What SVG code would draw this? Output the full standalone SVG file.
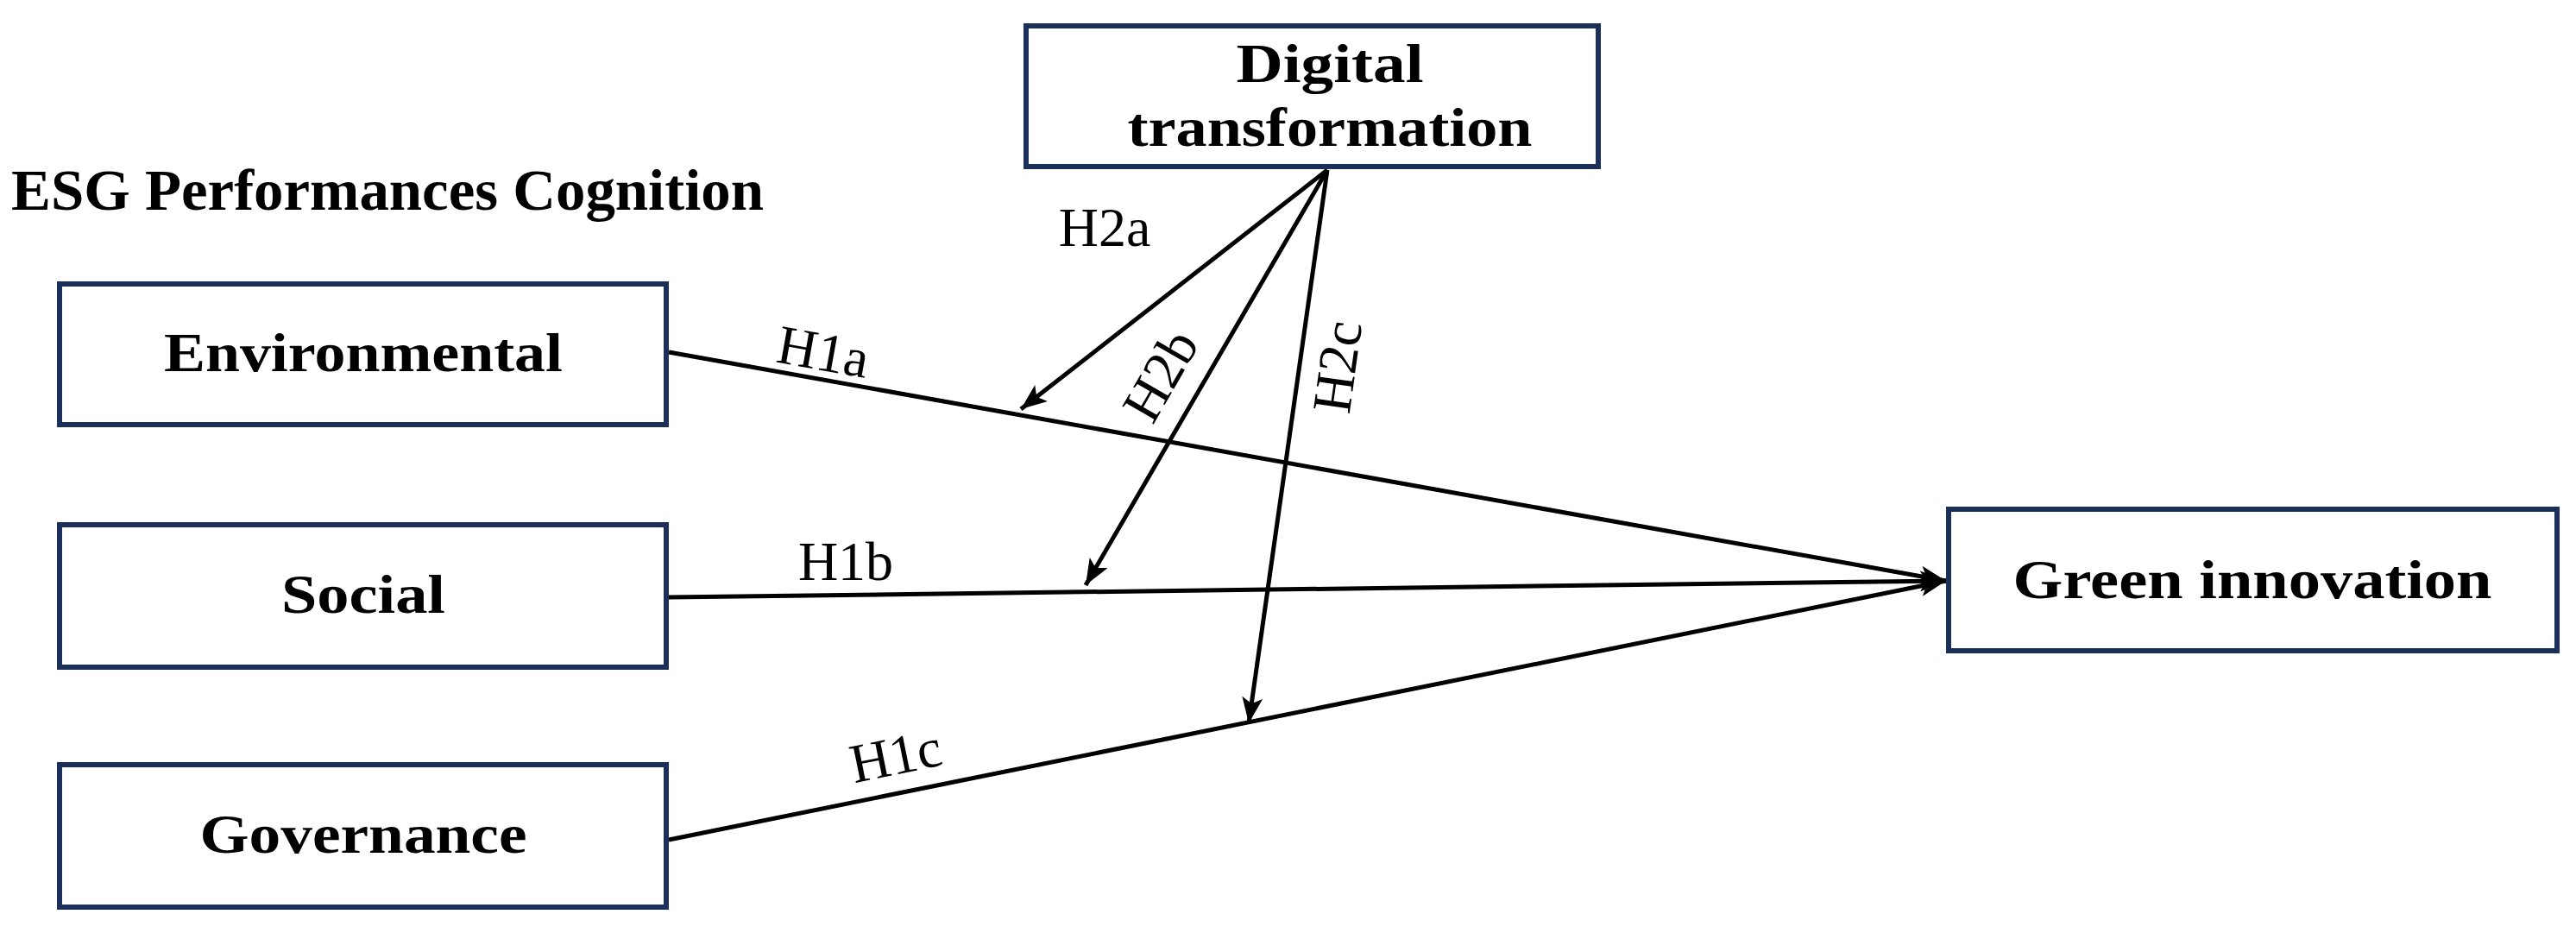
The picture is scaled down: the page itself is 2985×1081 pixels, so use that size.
<svg xmlns="http://www.w3.org/2000/svg" width="2985" height="1081" viewBox="0 0 2985 1081">
<style>
.box{fill:#fff;stroke:#1b2f5b;stroke-width:6}
.nt{font-family:"Liberation Serif","Times New Roman",serif;font-weight:bold;font-size:64px;fill:#000;text-anchor:middle}
.lbl{font-family:"Liberation Serif","Times New Roman",serif;font-size:64px;fill:#000;text-anchor:middle}
.ttl{font-family:"Liberation Serif","Times New Roman",serif;font-weight:bold;font-size:68px;fill:#000}
.ln{stroke:#000;stroke-width:5;fill:none;marker-end:url(#ah)}
</style>
<defs>
<marker id="ah" markerUnits="userSpaceOnUse" markerWidth="32" markerHeight="24" refX="30" refY="12" orient="auto">
<path d="M0,0 L30,12 L0,24 L7,12 Z" fill="#000"/>
</marker>
</defs>
<rect width="2985" height="1081" fill="#fff"/>
<text class="ttl" x="13" y="243" textLength="872" lengthAdjust="spacingAndGlyphs">ESG Performances Cognition</text>
<g id="connectors">
<line class="ln" x1="775" y1="408" x2="2255" y2="673"/>
<line class="ln" x1="775" y1="692" x2="2255" y2="673"/>
<line class="ln" x1="775" y1="973" x2="2255" y2="673"/>
<line class="ln" x1="1538" y1="197" x2="1183" y2="474"/>
<line class="ln" x1="1538" y1="197" x2="1258" y2="678"/>
<line class="ln" x1="1538" y1="197" x2="1447" y2="838"/>
<text class="lbl" transform="translate(954,408) rotate(10.2)" y="21">H1a</text>
<text class="lbl" x="980" y="672">H1b</text>
<text class="lbl" transform="translate(1038,876) rotate(-11.5)" y="21">H1c</text>
<text class="lbl" x="1280" y="285">H2a</text>
<text class="lbl" transform="translate(1345,435) rotate(-60)" y="21">H2b</text>
<text class="lbl" transform="translate(1550,425) rotate(-82)" y="21">H2c</text>
</g>
<g id="node-digital">
<rect class="box" x="1189" y="30" width="663" height="163"/>
<text class="nt" x="1541" y="95" textLength="217" lengthAdjust="spacingAndGlyphs">Digital</text>
<text class="nt" x="1541" y="169" textLength="469" lengthAdjust="spacingAndGlyphs">transformation</text>
</g>
<g id="node-environmental">
<rect class="box" x="69" y="329" width="703" height="163"/>
<text class="nt" x="421" y="430" textLength="462" lengthAdjust="spacingAndGlyphs">Environmental</text>
</g>
<g id="node-social">
<rect class="box" x="69" y="608" width="703" height="165"/>
<text class="nt" x="421" y="710" textLength="190" lengthAdjust="spacingAndGlyphs">Social</text>
</g>
<g id="node-governance">
<rect class="box" x="69" y="886" width="703" height="165"/>
<text class="nt" x="421" y="988" textLength="379" lengthAdjust="spacingAndGlyphs">Governance</text>
</g>
<g id="node-green">
<rect class="box" x="2258" y="590" width="705" height="164"/>
<text class="nt" x="2610" y="693" textLength="555" lengthAdjust="spacingAndGlyphs">Green innovation</text>
</g>
</svg>
